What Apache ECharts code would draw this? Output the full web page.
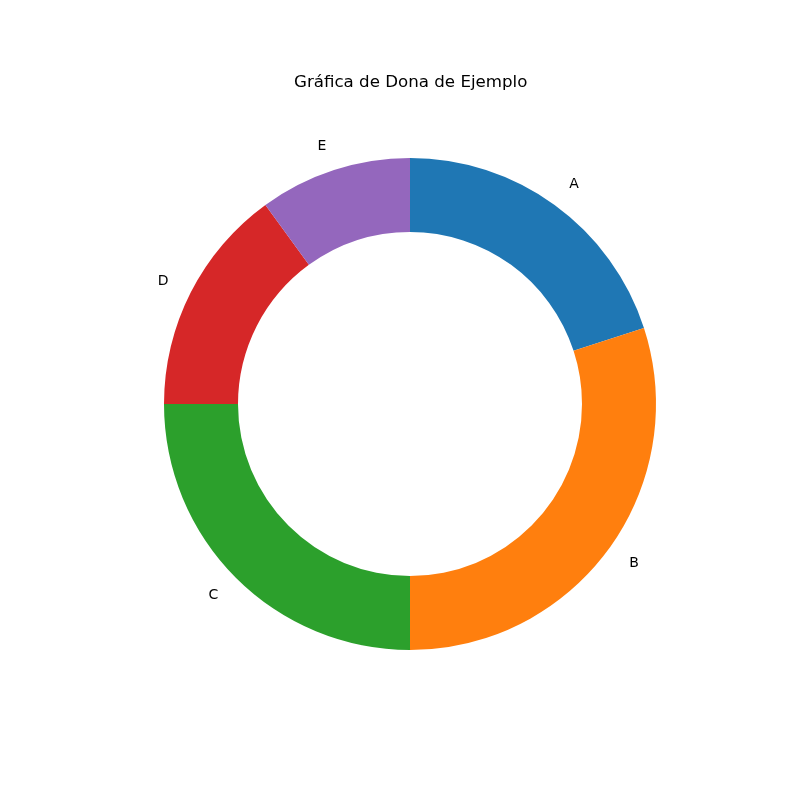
<!DOCTYPE html>
<html>
<head>
<meta charset="utf-8">
<script src="https://cdn.jsdelivr.net/npm/echarts@6/dist/echarts.min.js"></script>
<style>html,body{margin:0;padding:0;background:#fff}#c{width:800px;height:800px}</style>
</head>
<body>
<div id="c"></div>
<script>
const categories = ['A', 'B', 'C', 'D', 'E'];
const values = [20, 30, 25, 15, 10];
const colors = ['#1f77b4', '#ff7f0e', '#2ca02c', '#d62728', '#9467bd'];
const titleText = 'Gráfica de Dona de Ejemplo';

const chart = echarts.init(document.getElementById('c'), null, {renderer: 'canvas'});
chart.setOption({
  animation: false,
  backgroundColor: '#ffffff',
  title: {
    text: titleText,
    left: 294,
    top: 74,
    padding: 0,
    textStyle: {fontFamily: 'DejaVu Sans', fontSize: 16.67, fontWeight: 'normal', color: '#000'}
  },
  series: [{
    type: 'pie',
    center: [410, 404],
    radius: [172, 246],
    startAngle: 90,
    clockwise: true,
    avoidLabelOverlap: false,
    color: colors,
    label: {
      show: true,
      position: 'outside',
      fontFamily: 'DejaVu Sans',
      fontSize: 14,
      color: '#000',
      distanceToLabelLine: 0
    },
    labelLine: {show: false, length: 25, length2: 0},
    itemStyle: {borderWidth: 0},
    emphasis: {disabled: true},
    data: categories.map((c, i) => ({name: c, value: values[i]}))
  }]
});
</script>
</body>
</html>
